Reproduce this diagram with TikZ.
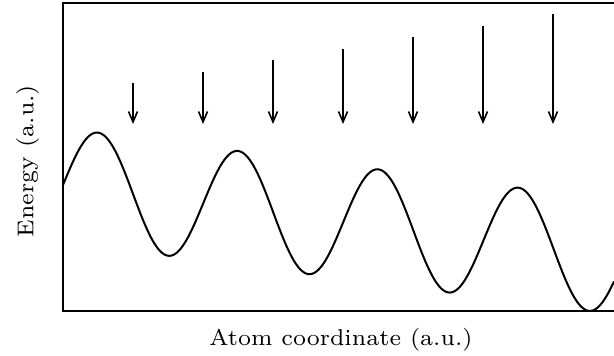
\documentclass[tikz,border=0pt]{standalone}
\usetikzlibrary{arrows.meta}
\tikzset{
  frameline/.style={line width=1.3pt, line cap=rect},
  wave/.style={line width=2pt},
  droparrow/.style={line width=1.6pt, -{Straight Barb[length=10.5pt,width=9pt,line width=1.6pt]}},
  axlabel/.style={font=\fontsize{7}{8}\selectfont, scale=3.27, transform shape, inner sep=0pt}
}
\begin{document}
\begin{tikzpicture}[x=1pt,y=-1pt]
\useasboundingbox (0,0) rectangle (614,356);
% frame
\coordinate (tr) at (620,3);
\coordinate (tl) at (63,3);
\coordinate (bl) at (63,311);
\coordinate (br) at (620,311);
\draw[frameline] (tr) -- (tl) -- (bl) -- (br);
% wave
\draw[wave] plot[domain=63:614, samples=240, smooth] (\x, {185 - 57*sin((\x-63)/140.2*360) + 0.131*(\x-63)});
% arrows
\foreach \i in {0,...,6} {
  \coordinate (t\i) at ({133+70*\i}, {83.3-11.5*\i});
  \coordinate (h\i) at ({133+70*\i}, 124);
  \draw[droparrow] (t\i) -- (h\i);
}
% labels
\node[axlabel, anchor=base] (xlab) at (341,345.3) {Atom coordinate (a.u.)};
\node[axlabel, anchor=base, rotate=90] (ylab) at (33.3,161) {Energy (a.u.)};
\end{tikzpicture}
\end{document}
